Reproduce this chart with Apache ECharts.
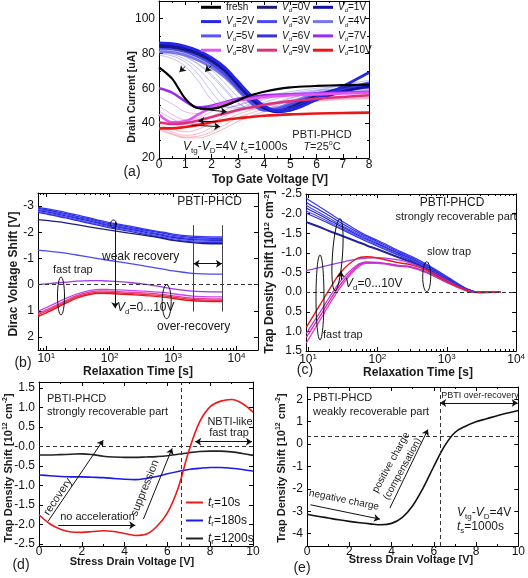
<!DOCTYPE html>
<html><head><meta charset="utf-8">
<script src="https://cdn.jsdelivr.net/npm/echarts@6/dist/echarts.min.js"></script>
<style>html,body{margin:0;padding:0;background:#fff}#c{width:528px;height:578px}</style>
</head><body><div id="c"></div>
<script>
// ---------------- DATA ----------------
// (a) drain current [uA] vs top gate voltage [V]
const aX  = [0,0.5,1,1.5,2,2.5,3,3.5,4,4.5,5,5.5,6,7,8];
const aFresh = [72,65.5,54,48.5,48.2,50,53,56,58,59.5,60.5,61,61.3,61.8,62];
const aVd0 = [84,83.5,82,79.5,75.5,70,62,54,48.5,47,49,52.5,55.5,60,62];
const aVd1 = [85,84.5,83,80.5,76.5,71,63,55,49,46.5,47.5,50.5,53.5,58,61];
const aVd2 = [86,85.5,84,81.5,77.5,72,64,56,50,47,47.5,50,53.5,61,69];
const aVd3 = [83,82.5,81,78,74,68,60,52,47.5,48,50.5,53.5,56,59.5,61];
const aVd4 = [81,80.5,79,76,72,66.5,59,51.5,47.5,48.5,51.5,54.5,57,59.5,60.5];
const aVd5 = [84.5,84,82.5,79.5,75.5,70,61.5,53.5,48,47,49,52,55,59.5,63];
const aVd6 = [85.5,85,83.5,81,77,71.5,63.5,55.5,49.5,47,48,51,54.5,59,62];
const aXt = [0,0.5,1,1.5,2,2.5,3,3.5,4,5,6,7,8];
const aThin1 = [80,78.5,75,68,58,50,48.5,51,53.5,57,59,60,60.5];
const aThin2 = [81,79.5,76.5,71,63,54,49,49.5,52,56,58.5,59.5,60];
const aThin3 = [82,80.5,78,73.5,67,59,51.5,48.5,50,54.5,57.5,59,60];
const aThin4 = [82.5,81.5,79.5,76,70.5,63,55,49.5,48.5,53,56.5,58.5,59.5];
const aThin5 = [83,82,80.5,77.5,73,66.5,58.5,51.5,48,51,55,57.5,59];
const aThin6 = [79,77,72.5,64,53.5,49,50,52.5,55,58,60,61,61.5];
const aThin7 = [83.5,82.5,81,78.5,74.5,68.5,61,54,49,50,54,57,58.5];
const aThin8 = [82,81,78.5,74,68,60,52,48,49,54,58.5,62,64.5];
const aVd7  = [60,57.5,52.5,49,50,52,54,55,56,56.5,57,57.5,58];
const aVd8  = [45,40.5,41,45,49,51.5,53,54,55,56,56.5,57,57.5];
const aVd9  = [40.5,39.5,40,41.5,43.5,45.5,47.5,49,50.5,52.5,54,55,56];
const aVd10 = [37,37,37.8,39,40.5,41.8,42.8,43.5,44.2,45,45.5,45.8,46];
const aXr = [0,0.5,1,1.5,2,2.5,3,4,5,6,7,8];
const aRed1 = [38,35,33,34,37.5,41.5,45,49.5,52,53.5,54.5,55];
const aRed2 = [37,34,32,32.5,35,39,43,48,51,53,54,54.5];
const aRed3 = [39,36.5,35,36.5,40,44,47,51,53,54.5,55,55.5];
const aRed4 = [36,33.5,31.5,31.5,33.5,37,41,46.5,50,52.5,53.5,54];
const aMag1 = [50,45,42,43,46.5,50,52.5,55,56.5,57,57.3,57.5];
const aMag2 = [47,42.5,39.5,40,43.5,47.5,50.5,54,55.5,56.5,56.8,57];
const aMag3 = [55,51,46.5,45.5,48,51,53,55.5,56.5,57,57.3,57.5];

// (b) Dirac voltage shift [V] vs relaxation time [s]
const bT = [7.4,10,20,30,50,70,100,200,400,700,1000,2000,3000,6000];
const bB1 = [-2.95,-2.9,-2.76,-2.66,-2.54,-2.45,-2.37,-2.24,-2.1,-2.0,-1.93,-1.85,-1.83,-1.82];
const bB2 = [-2.91,-2.86,-2.71,-2.61,-2.5,-2.41,-2.33,-2.2,-2.06,-1.96,-1.88,-1.8,-1.78,-1.77];
const bB3 = [-2.87,-2.82,-2.67,-2.57,-2.46,-2.37,-2.29,-2.16,-2.02,-1.91,-1.84,-1.76,-1.74,-1.73];
const bB4 = [-2.83,-2.78,-2.63,-2.53,-2.42,-2.33,-2.25,-2.12,-1.98,-1.87,-1.8,-1.72,-1.7,-1.69];
const bB5 = [-2.8,-2.74,-2.59,-2.49,-2.37,-2.29,-2.21,-2.08,-1.94,-1.83,-1.76,-1.68,-1.66,-1.65];
const bB6 = [-2.76,-2.7,-2.55,-2.45,-2.33,-2.25,-2.17,-2.04,-1.9,-1.79,-1.71,-1.63,-1.61,-1.6];
const bNavy = [-2.48,-2.45,-2.36,-2.29,-2.2,-2.14,-2.08,-1.97,-1.86,-1.76,-1.69,-1.6,-1.57,-1.56];
const bBlue = [-1.32,-1.29,-1.2,-1.13,-1.04,-0.98,-0.92,-0.81,-0.69,-0.59,-0.52,-0.43,-0.41,-0.4];
const bPurple = [0.0,-0.03,-0.09,-0.13,-0.15,-0.15,-0.13,-0.08,0.0,0.1,0.16,0.25,0.27,0.28];
const bMag  = [1.02,0.88,0.54,0.36,0.22,0.18,0.19,0.22,0.26,0.3,0.35,0.44,0.46,0.47];
const bPink = [1.1,0.97,0.62,0.42,0.28,0.24,0.25,0.29,0.33,0.38,0.43,0.52,0.54,0.55];
const bRed2 = [1.16,1.02,0.67,0.47,0.33,0.29,0.3,0.34,0.38,0.43,0.48,0.57,0.59,0.6];
const bRed  = [1.22,1.08,0.72,0.52,0.37,0.33,0.34,0.38,0.43,0.48,0.53,0.62,0.64,0.65];

// (c) trap density shift [1e12 cm^-2] vs relaxation time [s]
const cT = [9.4,10,15,20,30,50,70,100,200,300,500,1000,2000,3000,6000];
const cB1 = [-2.4,-2.36,-2.16,-2.02,-1.82,-1.58,-1.44,-1.32,-1.06,-0.92,-0.72,-0.4,-0.08,0.0,0.0];
const cB2 = [-2.3,-2.26,-2.08,-1.95,-1.76,-1.54,-1.41,-1.29,-1.03,-0.89,-0.69,-0.38,-0.07,0.0,0.0];
const cB3 = [-2.22,-2.18,-2.01,-1.89,-1.71,-1.5,-1.38,-1.26,-1.0,-0.87,-0.67,-0.36,-0.06,0.0,0.0];
const cB4 = [-2.15,-2.12,-1.96,-1.84,-1.67,-1.47,-1.35,-1.23,-0.98,-0.85,-0.65,-0.35,-0.06,0.0,0.0];
const cB5 = [-2.08,-2.05,-1.9,-1.79,-1.63,-1.44,-1.32,-1.2,-0.96,-0.83,-0.63,-0.33,-0.05,0.0,0.0];
const cB6 = [-2.02,-1.99,-1.85,-1.75,-1.6,-1.41,-1.29,-1.17,-0.94,-0.81,-0.61,-0.32,-0.05,0.0,0.0];
const cNavy1 = [-1.8,-1.78,-1.66,-1.57,-1.45,-1.3,-1.2,-1.1,-0.9,-0.78,-0.6,-0.31,-0.04,0.0,0.0];
const cNavy2 = [-1.78,-1.76,-1.64,-1.55,-1.43,-1.28,-1.18,-1.08,-0.88,-0.77,-0.59,-0.3,-0.04,0.0,0.0];
const cPurple = [-0.55,-0.56,-0.63,-0.69,-0.76,-0.84,-0.87,-0.88,-0.82,-0.74,-0.58,-0.3,-0.04,0.0,0.0];
const cRed  = [0.9,0.82,0.31,-0.05,-0.52,-0.85,-0.9,-0.87,-0.75,-0.7,-0.56,-0.28,-0.04,0.0,0.0];
const cMag1 = [1.05,0.98,0.5,0.15,-0.3,-0.68,-0.77,-0.76,-0.68,-0.65,-0.52,-0.26,-0.03,0.01,0.0];
const cPink = [1.15,1.08,0.6,0.24,-0.22,-0.64,-0.75,-0.75,-0.67,-0.64,-0.51,-0.25,-0.03,0.01,0.0];
const cMag2 = [1.3,1.22,0.7,0.33,-0.15,-0.6,-0.73,-0.73,-0.66,-0.63,-0.5,-0.25,-0.02,0.01,0.0];

// (d) trap density shift vs stress drain voltage
const dX = [0,0.5,1,1.5,2,2.5,3,3.5,4,4.5,5,5.5,6,6.5,7,7.5,8,8.5,9,9.5,10];
const dT10   = [-1.75,-1.98,-2.12,-2.19,-2.2,-2.18,-2.16,-2.18,-2.23,-2.28,-2.25,-2.05,-1.7,-1.07,-0.12,0.62,1.02,1.16,1.2,1.1,0.88];
const dT180  = [-0.73,-0.75,-0.77,-0.78,-0.78,-0.79,-0.8,-0.82,-0.84,-0.85,-0.82,-0.77,-0.7,-0.64,-0.59,-0.56,-0.54,-0.54,-0.56,-0.59,-0.63];
const dT1200 = [-0.22,-0.22,-0.21,-0.2,-0.19,-0.21,-0.25,-0.27,-0.28,-0.28,-0.27,-0.26,-0.24,-0.2,-0.16,-0.13,-0.12,-0.12,-0.14,-0.18,-0.23];

// (e) weakly recoverable part
const eX = [0,0.5,1,1.5,2,2.5,3,3.5,4,4.5,5,5.5,6,6.5,7,7.5,8,8.5,9,9.5,10];
const eY = [-3.13,-3.22,-3.3,-3.38,-3.45,-3.51,-3.56,-3.6,-3.54,-3.28,-2.75,-1.95,-1.0,-0.1,0.52,0.8,1.0,1.13,1.27,1.39,1.5];

// tick labels
const logTicks = [1,2,3,4];
const bYTicks = [-3,-2,-1,0,1,2];
const dYTicks = [-2.5,-2,-1.5,-1,-0.5,0,0.5,1,1.5];
const eYTicks = [-4,-3,-2,-1,0,1,2];

// ---------------- BUILD ----------------
const FF = '"Liberation Sans", Arial, Helvetica, sans-serif';
const L = Math.log10;
const logMinor = [];
[0,1,2,3].forEach(d => [2,3,4,5,6,7,8,9].forEach(m => logMinor.push(d + L(m))));
function rich(fs, bold) {
  const w = bold ? 'bold' : 'normal';
  const lh = Math.round(fs * 1.25);
  const sm = Math.round(fs * 0.64);
  return {
    n: {fontSize: fs, fontFamily: FF, fontWeight: w, lineHeight: lh},
    i: {fontSize: fs, fontFamily: FF, fontWeight: w, fontStyle: 'italic', lineHeight: lh},
    s: {fontSize: sm, fontFamily: FF, fontWeight: w, lineHeight: sm, verticalAlign: 'bottom'},
    p: {fontSize: sm, fontFamily: FF, fontWeight: w, lineHeight: sm, verticalAlign: 'top'}
  };
}
const grid = [
  {left: 159, top: 1, width: 210, height: 157},
  {left: 38, top: 193, width: 220, height: 157},
  {left: 306, top: 194, width: 214, height: 157},
  {left: 39, top: 382, width: 214, height: 164},
  {left: 307, top: 387, width: 212, height: 159}
];
const xAxis = [], yAxis = [], mainX = [], mainY = [];
function axes(gi, dir, spec) {
  const arr = dir === 'x' ? xAxis : yAxis;
  const pos = dir === 'x' ? ['bottom', 'top'] : ['left', 'right'];
  pos.forEach((p, k) => {
    const ax = {gridIndex: gi, type: 'value', position: p, min: spec.min, max: spec.max, inverse: !!spec.inverse,
      axisLine: {show: true, onZero: false, lineStyle: {color: '#000', width: 1}},
      axisTick: {show: true, inside: true, length: 4, lineStyle: {color: '#000', width: 1}},
      splitLine: {show: false},
      axisLabel: {show: k === 0, fontSize: spec.fs || 12, color: '#111', fontFamily: FF,
        margin: spec.margin == null ? 4 : spec.margin, lineHeight: spec.lh || 14}};
    if (spec.interval != null) ax.interval = spec.interval;
    if (spec.ticks) ax.axisTick.customValues = spec.ticks;
    if (spec.labels) ax.axisLabel.customValues = spec.labels;
    if (spec.formatter) ax.axisLabel.formatter = spec.formatter;
    if (spec.rich) ax.axisLabel.rich = spec.rich;
    if (spec.minorSplit) ax.minorTick = {show: true, splitNumber: spec.minorSplit, length: 2, lineStyle: {color: '#000', width: 1}};
    if (k === 0) (dir === 'x' ? mainX : mainY)[gi] = arr.length;
    arr.push(ax);
    if (spec.minor) {
      arr.push({gridIndex: gi, type: 'value', position: p, min: spec.min, max: spec.max, inverse: !!spec.inverse,
        axisLine: {show: false, onZero: false}, splitLine: {show: false}, axisLabel: {show: false},
        axisTick: {show: true, inside: true, length: 2, customValues: spec.minor, lineStyle: {color: '#000', width: 1}}});
    }
  });
}
const logFmt = v => '10{p|' + v + '}';
const logRich = {p: {fontSize: 8, fontFamily: FF, lineHeight: 8, verticalAlign: 'top'}};
// (a)
axes(0, 'x', {min: 0, max: 8, interval: 1, minorSplit: 2, margin: 1, lh: 12});
axes(0, 'y', {min: 20, max: 110, interval: 20, minorSplit: 2, formatter: v => v > 100 ? '' : String(v)});
// (b)
axes(1, 'x', {min: L(7.4), max: 4.34, ticks: logTicks, labels: logTicks, minor: logMinor, formatter: logFmt, rich: logRich, margin: 2});
axes(1, 'y', {min: -3.5, max: 2.5, inverse: true, ticks: bYTicks, labels: bYTicks});
// (c)
axes(2, 'x', {min: 0.97, max: 4, ticks: logTicks, labels: logTicks, minor: logMinor, formatter: logFmt, rich: logRich, margin: 2});
axes(2, 'y', {min: -2.5, max: 1.5, interval: 0.5, inverse: true, formatter: v => v.toFixed(1)});
// (d)
axes(3, 'x', {min: 0, max: 10, interval: 2, minorSplit: 2, margin: 0, lh: 12});
axes(3, 'y', {min: -2.55, max: 1.65, ticks: dYTicks, labels: dYTicks, formatter: v => v === 0 ? '-0.0' : v.toFixed(1)});
// (e)
axes(4, 'x', {min: 0, max: 10, interval: 2, minorSplit: 2, margin: 0, lh: 12});
axes(4, 'y', {min: -4.55, max: 2.55, ticks: eYTicks, labels: eYTicks});

function S(gi, xs, ys, color, w, o) {
  o = o || {};
  const s = {type: 'line', xAxisIndex: mainX[gi], yAxisIndex: mainY[gi],
    data: xs.map((x, i) => [o.log ? L(x) : x, ys[i]]),
    smooth: o.smooth == null ? 0.35 : o.smooth, symbol: 'none', showSymbol: false,
    lineStyle: {color: color, width: w, opacity: o.op == null ? 1 : o.op}, itemStyle: {color: color},
    z: o.z || 2, silent: true, animation: false, emphasis: {disabled: true}, clip: true};
  if (o.name) s.name = o.name;
  if (o.ml) s.markLine = o.ml;
  return s;
}
function ML(data) {
  return {silent: true, symbol: ['none', 'none'], symbolSize: 6, label: {show: false}, animation: false,
    lineStyle: {color: '#111', width: 1, type: 'solid'}, emphasis: {disabled: true}, data: data};
}
function A(x1, y1, x2, y2, both) {
  return [{coord: [x1, y1], symbol: both ? 'arrow' : 'none'}, {coord: [x2, y2], symbol: 'arrow'}];
}
function Seg(x1, y1, x2, y2, color) {
  return [{coord: [x1, y1], symbol: 'none', lineStyle: {color: color || '#444', width: 1, type: 'solid'}}, {coord: [x2, y2], symbol: 'none'}];
}
const dashH = v => ({yAxis: v, symbol: 'none', lineStyle: {type: [4, 3], color: '#333', width: 1}});
const dashV = v => ({xAxis: v, symbol: 'none', lineStyle: {type: [4, 3], color: '#333', width: 1}});

const series = [];
// (a) thin lines
const thinBlue = '#6464f0';
[aThin1, aThin2, aThin3, aThin4, aThin5, aThin6, aThin7, aThin8].forEach(d => series.push(S(0, aXt, d, thinBlue, 0.8, {op: 0.5})));
[aMag1, aMag2, aMag3].forEach(d => series.push(S(0, aXr, d, '#d050f0', 0.8, {op: 0.55})));
[aRed1, aRed2, aRed3, aRed4].forEach(d => series.push(S(0, aXr, d, '#f04a6a', 0.8, {op: 0.5})));
// (a) thick lines
const aColors = {'Vd=0V': '#1c1c78', 'Vd=1V': '#1212a6', 'Vd=2V': '#2626e6', 'Vd=3V': '#4a4aee', 'Vd=4V': '#7676f0',
  'Vd=5V': '#5656f6', 'Vd=6V': '#3434da', 'Vd=7V': '#9a2cf0', 'Vd=8V': '#e058f0', 'Vd=9V': '#e0307a', 'Vd=10V': '#e81818'};
series.push(S(0, aX, aVd4, aColors['Vd=4V'], 2.8, {name: 'Vd=4V'}));
series.push(S(0, aX, aVd3, aColors['Vd=3V'], 2.8, {name: 'Vd=3V'}));
series.push(S(0, aX, aVd5, aColors['Vd=5V'], 2.8, {name: 'Vd=5V'}));
series.push(S(0, aX, aVd0, aColors['Vd=0V'], 2.8, {name: 'Vd=0V'}));
series.push(S(0, aX, aVd6, aColors['Vd=6V'], 2.8, {name: 'Vd=6V'}));
series.push(S(0, aX, aVd1, aColors['Vd=1V'], 2.8, {name: 'Vd=1V'}));
series.push(S(0, aX, aVd2, aColors['Vd=2V'], 2.8, {name: 'Vd=2V'}));
series.push(S(0, aXt, aVd7, aColors['Vd=7V'], 2.6, {name: 'Vd=7V'}));
series.push(S(0, aXt, aVd8, aColors['Vd=8V'], 2.6, {name: 'Vd=8V'}));
series.push(S(0, aXt, aVd9, aColors['Vd=9V'], 2.6, {name: 'Vd=9V'}));
series.push(S(0, aXt, aVd10, aColors['Vd=10V'], 2.6, {name: 'Vd=10V'}));
series.push(S(0, aX, aFresh, '#000', 2.2, {name: 'fresh', z: 3, smooth: 0.3, ml: ML([
  A(1.0, 72.5, 0.78, 69.3), A(2.0, 73, 1.76, 69.5),
  A(1.56, 48, 2.58, 46.5), A(2.25, 41.3, 1.5, 41.3), A(1.23, 38.8, 2.33, 38)
])}));

// (b)
const bBunch = [bB1, bB2, bB3, bB4, bB5, bB6];
const bBunchCol = ['#3a3af0', '#2a2ae4', '#4a4af2', '#2020d0', '#5858f4', '#3030e0'];
bBunch.forEach((d, i) => series.push(S(1, bT, d, bBunchCol[i], 1.3, {log: true})));
series.push(S(1, bT, bNavy, '#1c1c80', 1.3, {log: true, ml: ML([
  dashH(0),
  A(L(122), -2.39, L(122), 0.9),
  Seg(L(2100), -2.27, L(2100), 1.03), Seg(L(5900), -2.27, L(5900), 1.03),
  A(L(2100), -0.8, L(5900), -0.8, true)
])}));
series.push(S(1, bT, bBlue, '#4a4af0', 1.3, {log: true}));
series.push(S(1, bT, bPurple, '#9a3af0', 1.3, {log: true}));
series.push(S(1, bT, bMag, '#d040f0', 1.3, {log: true}));
series.push(S(1, bT, bPink, '#e0409a', 1.3, {log: true}));
series.push(S(1, bT, bRed2, '#e83050', 1.3, {log: true}));
series.push(S(1, bT, bRed, '#e81818', 1.4, {log: true}));

// (c)
const cBunch = [cB1, cB2, cB3, cB4, cB5, cB6];
cBunch.forEach((d, i) => series.push(S(2, cT, d, bBunchCol[i], 1.2, {log: true})));
series.push(S(2, cT, cNavy1, '#1c1c90', 1.3, {log: true}));
series.push(S(2, cT, cNavy2, '#2020a8', 1.3, {log: true}));
series.push(S(2, cT, cPurple, '#a040f0', 1.3, {log: true}));
series.push(S(2, cT, cMag2, '#e040c0', 1.3, {log: true}));
series.push(S(2, cT, cPink, '#d030a0', 1.3, {log: true}));
series.push(S(2, cT, cMag1, '#c030e0', 1.3, {log: true}));
series.push(S(2, cT, cRed, '#e81818', 1.4, {log: true, ml: ML([
  dashH(0), A(L(29.7), -0.31, L(29.7), -0.53)
])}));

// (d)
series.push(S(3, dX, dT1200, '#222', 1.6, {name: 't1200', ml: ML([
  dashH(0), dashV(6.65),
  A(0.42, -1.92, 3.0, 0.16), A(0.9, -2.02, 4.5, -2.02), A(4.88, -1.86, 6.22, -0.05),
  A(7.3, 0.12, 9.95, 0.12, true)
])}));
series.push(S(3, dX, dT180, '#1a1aee', 1.6, {name: 't180'}));
series.push(S(3, dX, dT10, '#ee1a1a', 1.6, {name: 't10'}));

// (e)
series.push(S(4, eX, eY, '#111', 1.6, {ml: ML([
  dashH(0.33), dashV(6.3),
  A(0.16, -2.71, 3.45, -3.35), A(3.92, -2.86, 5.72, 0.65), A(6.3, 1.84, 9.97, 1.84, true)
])}));

// legends
const legRich10 = rich(10);
const vdFmt = n => n === 'fresh' ? 'fresh' : '{i|V}{s|d}{n|=' + n.slice(3) + '}';
function legCol(left, names) {
  return {orient: 'vertical', left: left, top: 0.8, padding: 0, itemGap: 1.3, itemWidth: 20, itemHeight: 3,
    icon: 'rect', selectedMode: false, data: names, formatter: vdFmt,
    textStyle: {fontSize: 10, fontFamily: FF, color: '#111', lineHeight: 13, rich: legRich10}};
}
const legend = [
  legCol(201, ['fresh', 'Vd=2V', 'Vd=5V', 'Vd=8V']),
  legCol(257, ['Vd=0V', 'Vd=3V', 'Vd=6V', 'Vd=9V']),
  legCol(313, ['Vd=1V', 'Vd=4V', 'Vd=7V', 'Vd=10V']),
  {orient: 'vertical', left: 186, top: 495, padding: 0, itemGap: 3, itemWidth: 17, itemHeight: 2, icon: 'rect', selectedMode: false,
    data: ['t10', 't180', 't1200'],
    formatter: n => '{i|t}{s|r}{n|=' + n.slice(1) + 's}',
    textStyle: {fontSize: 12, fontFamily: FF, color: '#111', lineHeight: 14, rich: rich(12)}}
];

// annotations
function T(x, y, text, fs, o) {
  o = o || {};
  return {type: 'text', x: x, y: y, rotation: o.rot || 0, z: 100, silent: true,
    style: {text: text, fill: o.color || '#1a1a1a', fontSize: fs, fontFamily: FF, fontWeight: o.bold ? 'bold' : 'normal',
      align: o.align || 'left', verticalAlign: 'middle', rich: rich(fs, o.bold)}};
}
function E(x, y, rx, ry, rot) {
  return {type: 'ellipse', x: x, y: y, rotation: rot || 0, z: 100, silent: true,
    shape: {cx: 0, cy: 0, rx: rx, ry: ry}, style: {fill: 'none', stroke: '#111', lineWidth: 1}};
}
const R90 = Math.PI / 2;
const trapName = '{n|Trap Density Shift [10}{p|12}{n| cm}{p|-2}{n|]}';
const graphic = [
  // (a)
  T(183, 147, '{i|V}{s|tg}{n|-}{i|V}{s|D}{n|=4V }{i|t}{s|s}{n|=1000s}', 12),
  T(322, 135, 'PBTI-PHCD', 11, {align: 'center'}),
  T(322, 147, '{i|T}{n|=25}{p|o}{n|C}', 11, {align: 'center'}),
  T(132, 172, '(a)', 14, {align: 'center'}),
  T(270, 179.5, 'Top Gate Voltage [V]', 12, {align: 'center', bold: true}),
  T(132, 97, 'Drain Current [uA]', 10.5, {align: 'center', bold: true, rot: R90}),
  // (b)
  T(242, 202, 'PBTI-PHCD', 12, {align: 'right'}),
  T(102, 257, 'weak recovery', 12),
  T(53, 270, 'fast trap', 11),
  T(117, 308, '{i|V}{s|d}{n|=0...10V}', 12),
  T(157, 327, 'over-recovery', 12),
  T(23, 363, '(b)', 14, {align: 'center'}),
  T(138, 372, 'Relaxation Time [s]', 12, {align: 'center', bold: true}),
  T(14, 274, 'Dirac Voltage Shift [V]', 12, {align: 'center', bold: true, rot: R90}),
  E(61, 296, 3.5, 19), E(166.7, 301.7, 4.5, 17), E(113.5, 224, 3, 4),
  // (c)
  T(452, 203, 'PBTI-PHCD', 12, {align: 'center'}),
  T(456, 217, 'strongly recoverable part', 11, {align: 'center'}),
  T(449, 252, 'slow trap', 11, {align: 'center'}),
  T(323, 335, 'fast trap', 11),
  T(345, 284, '{i|V}{s|d}{n|=0...10V}', 12),
  T(305, 370, '(c)', 14, {align: 'center'}),
  T(418, 373, 'Relaxation Time [s]', 12, {align: 'center', bold: true}),
  T(270, 272, trapName, 12, {align: 'center', bold: true, rot: R90}),
  E(320, 297.5, 4, 42.5), E(337.5, 254.7, 5, 36, -0.07), E(426.7, 276.7, 4, 15),
  // (d)
  T(47, 399, 'PBTI-PHCD', 11),
  T(47, 412, 'strongly recoverable part', 11),
  T(230, 422, 'NBTI-like', 11, {align: 'center'}),
  T(229, 433, 'fast trap', 11, {align: 'center'}),
  T(97.5, 516.7, 'no acceleration', 11, {align: 'center'}),
  T(58, 496.7, 'recovery', 11, {align: 'center', rot: 0.98}),
  T(145, 488, 'suppression', 11, {align: 'center', rot: 1.19}),
  T(21, 565, '(d)', 14, {align: 'center'}),
  T(132, 562, 'Stress Drain Voltage [V]', 11, {align: 'center', bold: true}),
  T(9, 468, trapName, 11, {align: 'center', bold: true, rot: R90}),
  // (e)
  T(313, 398, 'PBTI-PHCD', 11),
  T(313, 412, 'weakly recoverable part', 11),
  T(480, 396, 'PBTI over-recovery', 9, {align: 'center'}),
  T(344, 500, 'negative charge', 10, {align: 'center', rot: -0.2}),
  T(391, 462.5, 'positive charge', 10, {align: 'center', rot: 1.07}),
  T(402.5, 469, '(compensation)', 10, {align: 'center', rot: 1.07}),
  T(457, 513, '{i|V}{s|tg}{n|-}{i|V}{s|D}{n|=4V}', 12),
  T(457, 527, '{i|t}{s|s}{n|=1000s}', 12),
  T(302, 568, '(e)', 14, {align: 'center'}),
  T(411, 560, 'Stress Drain Voltage [V]', 11, {align: 'center', bold: true}),
  T(282, 468, trapName, 11, {align: 'center', bold: true, rot: R90})
];

const chart = echarts.init(document.getElementById('c'), null, {renderer: 'canvas'});
chart.setOption({animation: false, backgroundColor: '#fff', grid: grid, xAxis: xAxis, yAxis: yAxis,
  legend: legend, series: series, graphic: graphic});
</script></body></html>
